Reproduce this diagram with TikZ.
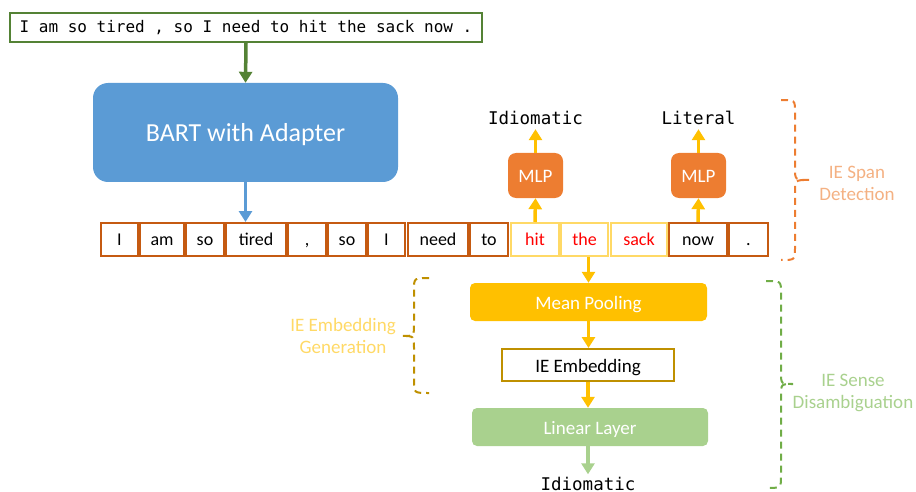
\documentclass[tikz,border=0pt]{standalone}
\usepackage{fontspec}
\setmainfont{Carlito}
\setmonofont{DejaVu Sans Mono}
\usetikzlibrary{arrows.meta}
\definecolor{dkgreen}{HTML}{548235}
\definecolor{bartblue}{HTML}{5B9BD5}
\definecolor{tokbrown}{HTML}{C55A11}
\definecolor{ltyellow}{HTML}{FFD966}
\definecolor{mlporange}{HTML}{ED7D31}
\definecolor{gold}{HTML}{FFC000}
\definecolor{dkgold}{HTML}{BF9000}
\definecolor{ltgreen}{HTML}{A9D18E}
\definecolor{midgreen}{HTML}{70AD47}
\definecolor{ltorange}{HTML}{F4B183}
\tikzset{
  arr/.style={line width=3.5pt, -{Triangle[width=13pt,length=11pt]}},
  tok/.style={draw=tokbrown, line width=2pt, minimum height=33pt, inner sep=0pt,
    font=\fontsize{18}{21}\selectfont, text height=14pt, text depth=3pt},
  hl/.style={draw=ltyellow, text=red},
  boxtxt/.style={font=\fontsize{19}{22}\selectfont, inner sep=0pt, text height=14pt, text depth=0pt},
  mlpbox/.style={boxtxt, fill=mlporange, rounded corners=8pt, minimum width=55pt, minimum height=45pt,
    text=white},
  lab/.style={font=\ttfamily\fontsize{17.5}{20}\selectfont, inner sep=0pt, text height=12pt, text depth=4pt},
  side/.style={align=center, font=\fontsize{19}{22}\selectfont, inner sep=0pt},
  brc/.style={dashed, dash pattern=on 7pt off 5pt, line width=2pt},
}
\begin{document}
\begin{tikzpicture}[x=1pt,y=-1pt]
\useasboundingbox (0,0) rectangle (916,492);
% input sentence
\node[draw=dkgreen, line width=2pt, minimum width=472pt, minimum height=29pt, inner sep=0pt,
  text height=11pt, text depth=0pt,
  font=\ttfamily\fontsize{16}{19}\selectfont] (s) at (246,27.5)
  {I am so tired , so I need to hit the sack now .};
% BART
\node[fill=bartblue, rounded corners=15pt, minimum width=305pt, minimum height=99pt,
  text=white, font=\fontsize{26}{30}\selectfont, inner sep=0pt, text height=19pt, text depth=0pt]
  (bart) at (245.5,132.5) {BART with Adapter};
% tokens
\foreach \nm/\l/\r/\txt in {t1/101/138/I, t2/140/184/am, t3/186/224/so, t4/226/286/tired,
  t5/288/326/{,}, t6/328/366/so, t7/368/405/I, t8/408/468/need, t9/470/508/to,
  t13/669/727/now, t14/729/768/.}
  \node[tok, minimum width={(\r-\l)*1pt}] (\nm) at ({(\l+\r)/2},239.5) {\txt};
\foreach \nm/\l/\r/\txt in {t10/511/559/hit, t11/561/608/the, t12/611/667/sack}
  \node[tok, hl, minimum width={(\r-\l)*1pt}] (\nm) at ({(\l+\r)/2},239.5) {\txt};
% MLPs
\node[mlpbox] (m1) at (535.5,175.5) {MLP};
\node[mlpbox] (m2) at (698.5,175.5) {MLP};
\node[lab] (o1) at (535.5,121) {Idiomatic};
\node[lab] (o2) at (698.5,121) {Literal};
% lower pipeline
\node[boxtxt, fill=gold, rounded corners=5pt, minimum width=237pt, minimum height=38pt,
  text=white] (mp) at (588.5,302) {Mean Pooling};
\node[boxtxt, draw=dkgold, line width=2pt, fill=white, minimum width=172pt, minimum height=32pt]
  (emb) at (588,365) {IE Embedding};
\node[boxtxt, fill=ltgreen, rounded corners=5pt, minimum width=236pt, minimum height=38pt,
  text=white] (lin) at (590,427) {Linear Layer};
\node[lab, text depth=0pt] (o3) at (588,484.5) {Idiomatic};
% arrows
\draw[arr, dkgreen] (s.south) -- (bart.north);
\draw[arr, bartblue] (bart.south) -- (bart.south |- t4.north);
\draw[arr, gold] (t10.north) -- (m1.south);
\draw[arr, gold] (m1.north) -- (o1.south);
\draw[arr, gold] (t13.north) -- (m2.south);
\draw[arr, gold] (m2.north) -- (o2.south);
\draw[arr, gold] (mp.north |- t11.south) -- (mp.north);
\draw[arr, gold] (mp.south) -- (mp.south |- emb.north);
\draw[arr, gold] (emb.south) -- (emb.south |- lin.north);
\draw[arr, ltgreen, shorten >=4pt] (o3.north |- lin.south) -- (o3.north);
% braces
\draw[brc, mlporange] (781,100) .. controls (795,100) .. (795,112) -- (795,168)
  .. controls (795,180) .. (809,180) .. controls (795,180) .. (795,192) -- (795,248)
  .. controls (795,260) .. (781,260);
\draw[brc, midgreen] (766,281) .. controls (781,281) .. (781,293) -- (781,372)
  .. controls (781,384) .. (793,384) .. controls (781,384) .. (781,396) -- (781,476)
  .. controls (781,488) .. (766,488);
\draw[brc, dkgold] (429,278) .. controls (414,278) .. (414,290) -- (414,324)
  .. controls (414,336) .. (402,336) .. controls (414,336) .. (414,348) -- (414,381)
  .. controls (414,393) .. (429,393);
% side labels
\node[side, text=ltorange] (l1) at (857,183) {IE Span\\Detection};
\node[side, text=ltyellow] (l2) at (343,336) {IE Embedding\\Generation};
\node[side, text=ltgreen] (l3) at (853,393) {IE Sense\\Disambiguation};
\end{tikzpicture}
\end{document}
